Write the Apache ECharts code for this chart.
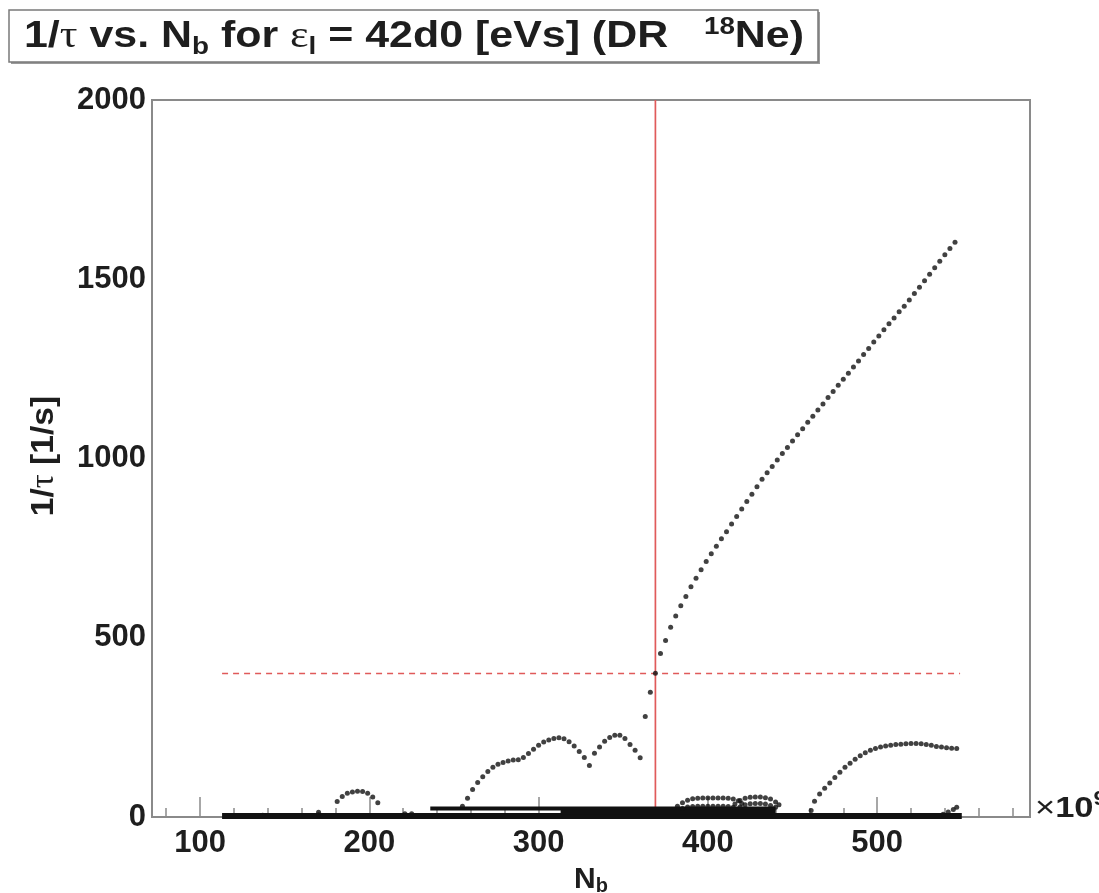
<!DOCTYPE html>
<html>
<head>
<meta charset="utf-8">
<script src="https://cdn.jsdelivr.net/npm/echarts@6/dist/echarts.min.js"></script>
<style>
  html, body { margin: 0; padding: 0; background: #ffffff; }
  #chart { width: 1099px; height: 893px; }
</style>
</head>
<body>
<div id="chart"></div>
<script>
// Axis ticks (N_b in units of 1e9) and 1/tau labels
const xMajorTicks = [100, 200, 300, 400, 500];
const xMinorTicks = [80, 120, 140, 160, 180, 220, 240, 260, 280, 320, 340, 360, 380,
                     420, 440, 460, 480, 520, 540, 560, 580];
const yTicks = [0, 500, 1000, 1500, 2000];

// Working point: N_b and 1/tau marked by the red cross-hair
const workNb = 369;
const workRate = 400;
const scanStart = 113;
const scanEnd = 549;

// Steep branch through the working point
const steepBranch = [
  [363, 280], [366, 348], [369, 401], [372, 456], [375, 492], [378, 529], [381, 561],
  [384, 589], [387, 615], [390, 642], [393, 666], [396, 690], [399, 713], [402, 734],
  [405, 755], [408, 776], [411, 796], [414, 817], [417, 838], [420, 859], [423, 880],
  [426, 900], [429, 921], [432, 942], [435, 960], [438, 978], [441, 996], [444, 1014],
  [447, 1031], [450, 1049], [453, 1066], [456, 1083], [459, 1101], [462, 1118],
  [465, 1135], [468, 1152], [471, 1170], [474, 1187], [477, 1204], [480, 1221],
  [483, 1238], [486, 1255], [489, 1272], [492, 1290], [495, 1307], [498, 1325],
  [501, 1342], [504, 1359], [507, 1376], [510, 1392], [513, 1409], [516, 1425],
  [519, 1442], [522, 1460], [525, 1478], [528, 1496], [531, 1514], [534, 1532],
  [537, 1550], [540, 1568], [543, 1586], [546, 1603]
];

// Double hump between 255 and 360
const humpBranch = [
  [255, 30], [258, 52], [261, 77], [264, 96], [267, 112], [270, 127], [273, 139],
  [276, 147], [279, 152], [282, 156], [285, 159], [288, 160], [291, 166], [294, 177],
  [297, 189], [300, 200], [303, 209], [306, 215], [309, 219], [312, 221], [315, 218],
  [318, 210], [321, 198], [324, 183], [327, 166], [330, 144], [333, 178], [336, 195],
  [339, 211], [342, 222], [345, 228], [348, 228], [351, 219], [354, 202], [357, 186],
  [360, 165]
];

// Small arc near N_b = 190
const smallArc = [
  [181, 43], [184, 57], [187, 66], [190, 70], [193, 72], [196, 71], [199, 66],
  [202, 56], [205, 40]
];

// Late arc rising after N_b = 460
const lateArc = [
  [461, 18], [463, 44], [466, 64], [469, 80], [472, 95], [475, 110], [478, 125],
  [481, 139], [484, 150], [487, 161], [490, 171], [493, 179], [496, 186], [499, 191],
  [502, 195], [505, 198], [508, 200], [511, 202], [514, 203], [517, 204], [520, 205],
  [523, 205], [526, 204], [529, 202], [532, 200], [535, 197], [538, 195], [541, 193],
  [544, 192], [547, 191]
];

// Low arcs between 380 and 442
const arcAOuter = [
  [382, 30], [385, 40], [388, 47], [391, 51], [394, 52], [397, 53], [400, 53],
  [403, 53], [406, 53], [409, 53], [412, 52], [415, 50], [418, 45], [420, 38]
];
const arcAInner = [
  [385, 24], [388, 28], [391, 29], [394, 30], [397, 30], [400, 30], [403, 30],
  [406, 30], [409, 30], [412, 29], [415, 27]
];
const arcBOuter = [
  [416, 36], [419, 46], [422, 52], [425, 55], [428, 56], [431, 56], [434, 54],
  [437, 50], [440, 42], [442, 34]
];
const arcBInner = [
  [419, 28], [422, 34], [425, 37], [428, 38], [431, 38], [434, 36], [437, 32], [440, 27]
];

// Short rise at the end of the scan
const endRise = [[539, 8], [542, 14], [545, 21], [547, 27]];

// Isolated points just above the floor
const strayPoints = [[137, 5], [170, 6], [170, 13], [221, 9], [225, 9]];

// Near-zero branches that merge into a thick band
const floorBand = [[113, 3], [550, 3]];
const upperBand = [[236, 24], [440, 24]];
const fillBand = [[313, 13], [440, 13]];

const FONT = '"Liberation Sans", Arial, Helvetica, sans-serif';
const SERIF = '"Liberation Serif", "Times New Roman", serif';
const INK = '#111111';
const TEXT = '#1e1e1e';
const FRAME = '#8a8a8a';
const RED = '#e05a5a';

const xRange = { min: 71.6, max: 590.3 };

function dots(name, data) {
  return {
    name: name, type: 'scatter', data: data,
    symbol: 'circle', symbolSize: 5,
    itemStyle: { color: INK },
    z: 5, silent: true
  };
}
function band(name, data, width) {
  return {
    name: name, type: 'line', data: data,
    showSymbol: false, symbol: 'none',
    lineStyle: { color: INK, width: width, cap: 'butt' },
    z: 4, silent: true
  };
}

const chart = echarts.init(document.getElementById('chart'), null, { renderer: 'canvas' });

chart.setOption({
  animation: false,
  backgroundColor: '#ffffff',
  grid: {
    left: 152, top: 100, right: 69, bottom: 76,
    outerBoundsMode: 'none', containLabel: false,
    show: true, borderColor: FRAME, borderWidth: 2, backgroundColor: '#ffffff'
  },
  xAxis: [
    {
      type: 'value', min: xRange.min, max: xRange.max,
      name: '{b|N}{s|b}', nameLocation: 'middle', nameGap: 47,
      nameTextStyle: {
        rich: {
          b: { fontFamily: FONT, fontWeight: 'bold', fontSize: 30, color: TEXT, lineHeight: 32 },
          s: { fontFamily: FONT, fontWeight: 'bold', fontSize: 20, color: TEXT, lineHeight: 16, verticalAlign: 'bottom' }
        }
      },
      axisLine: { show: false },
      axisTick: { show: true, inside: true, length: 20, customValues: xMajorTicks,
                  lineStyle: { color: FRAME, width: 1.5 } },
      axisLabel: { customValues: xMajorTicks, margin: 11, fontFamily: FONT, fontWeight: 'bold',
                   fontSize: 31, color: TEXT },
      splitLine: { show: false }
    },
    {
      type: 'value', min: xRange.min, max: xRange.max, position: 'bottom',
      axisLine: { show: false },
      axisTick: { show: true, inside: true, length: 9, customValues: xMinorTicks,
                  lineStyle: { color: FRAME, width: 1.5 } },
      axisLabel: { show: false },
      splitLine: { show: false }
    }
  ],
  yAxis: {
    type: 'value', min: yTicks[0], max: yTicks[yTicks.length - 1], interval: yTicks[1] - yTicks[0],
    axisLine: { show: false },
    axisTick: { show: false },
    axisLabel: { margin: 6, fontFamily: FONT, fontWeight: 'bold', fontSize: 31, color: TEXT,
                 formatter: function (v) { return String(v); } },
    splitLine: { show: false }
  },
  series: [
    {
      name: 'working N_b', type: 'line', data: [[workNb, yTicks[0]], [workNb, yTicks[yTicks.length - 1]]],
      symbol: 'none', lineStyle: { color: RED, width: 1.7 }, z: 2, silent: true
    },
    {
      name: 'working rate', type: 'line', data: [[scanStart, workRate], [scanEnd, workRate]],
      symbol: 'none', lineStyle: { color: RED, width: 1.5, type: [6, 5] }, z: 2, silent: true
    },
    band('floor', floorBand, 6),
    band('upper band', upperBand, 4),
    band('fill band', fillBand, 5),
    dots('steep', steepBranch),
    dots('hump', humpBranch),
    dots('small arc', smallArc),
    dots('late arc', lateArc),
    dots('arc A outer', arcAOuter),
    dots('arc A inner', arcAInner),
    dots('arc B outer', arcBOuter),
    dots('arc B inner', arcBInner),
    dots('end rise', endRise),
    dots('stray', strayPoints)
  ],
  graphic: [
    // title box with its drop shadow
    {
      type: 'rect', shape: { x: 11, y: 12, width: 809, height: 52 },
      style: { fill: '#9a9a9a' }, z: 10
    },
    {
      type: 'rect', shape: { x: 9, y: 10, width: 809, height: 52 },
      style: { fill: '#ffffff', stroke: '#7a7a7a', lineWidth: 1.5 }, z: 11
    },
    {
      type: 'text', x: 414, y: 37, z: 12, scaleX: 1.16,
      style: {
        text: '{b|1/}{g|τ}{b| vs. N}{s|b}{b| for }{g|ε}{s|l}{b| = 42d0 [eVs] (DR   }{p|18}{b|Ne)}',
        align: 'center', verticalAlign: 'middle',
        rich: {
          b: { fontFamily: FONT, fontWeight: 'bold', fontSize: 37, fill: TEXT, lineHeight: 44 },
          g: { fontFamily: SERIF, fontSize: 38, fill: TEXT, lineHeight: 44 },
          s: { fontFamily: FONT, fontWeight: 'bold', fontSize: 24, fill: TEXT, lineHeight: 22, verticalAlign: 'bottom' },
          p: { fontFamily: FONT, fontWeight: 'bold', fontSize: 24, fill: TEXT, lineHeight: 22, verticalAlign: 'top' }
        }
      }
    },
    // vertical axis title
    {
      type: 'text', x: 44, y: 456, z: 12, rotation: Math.PI / 2, scaleX: 1.05,
      style: {
        text: '{b|1/}{g|τ}{b| [1/s]}', align: 'center', verticalAlign: 'middle',
        rich: {
          b: { fontFamily: FONT, fontWeight: 'bold', fontSize: 32, fill: TEXT, lineHeight: 36 },
          g: { fontFamily: SERIF, fontSize: 33, fill: TEXT, lineHeight: 36 }
        }
      }
    },
    // axis exponent
    {
      type: 'text', x: 1035, y: 809, z: 12, scaleX: 1.15,
      style: {
        text: '{m|×}{b|10}{p|9}', align: 'left', verticalAlign: 'middle',
        rich: {
          m: { fontFamily: FONT, fontSize: 30, fill: TEXT, lineHeight: 40 },
          b: { fontFamily: FONT, fontWeight: 'bold', fontSize: 30, fill: TEXT, lineHeight: 40 },
          p: { fontFamily: FONT, fontWeight: 'bold', fontSize: 20, fill: TEXT, lineHeight: 20, verticalAlign: 'top' }
        }
      }
    }
  ]
});
</script>
</body>
</html>
